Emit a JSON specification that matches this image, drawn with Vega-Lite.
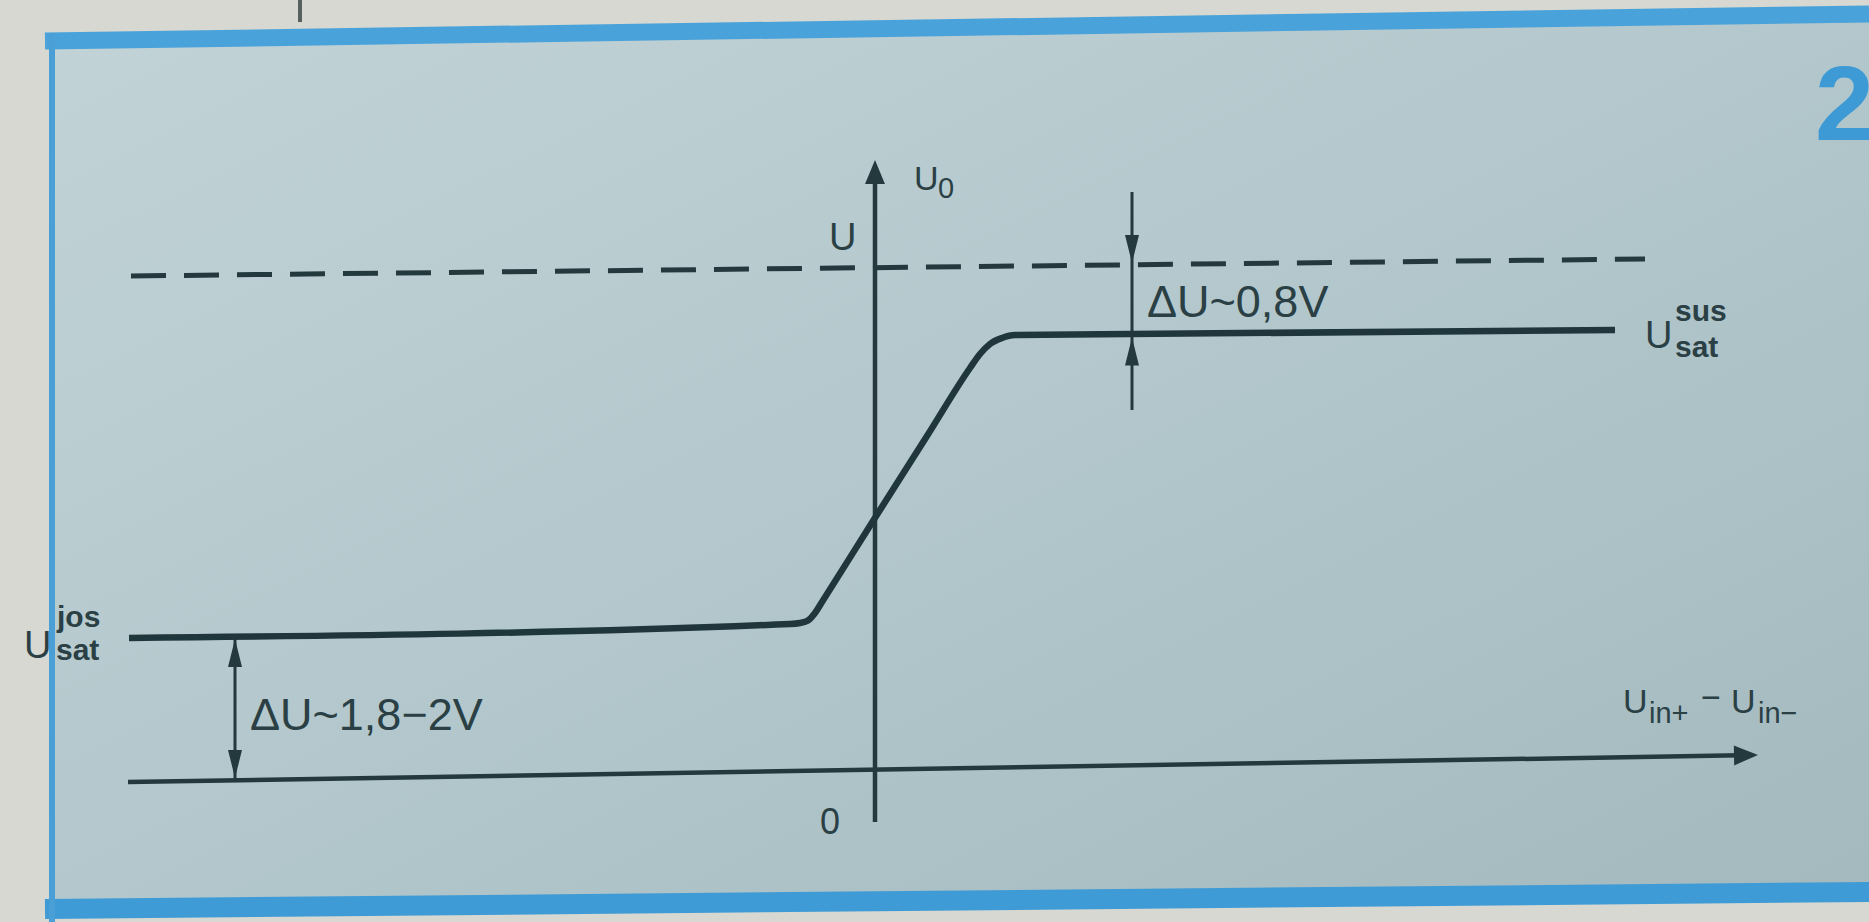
{
  "$schema": "https://vega.github.io/schema/vega-lite/v6.json",
  "width": 1869,
  "height": 922,
  "autosize": {"type": "none"},
  "padding": 0,
  "background": "#d6d8d1",
  "config": {"view": {"stroke": null}},
  "datasets": {
    "panel": [
      {"x": -8.23, "y": 7.32, "y2": -1.36},
      {"x": 9.94, "y": 7.59, "y2": -1.19}
    ],
    "bandTop": [{"x": -8.3, "y": 7.32}, {"x": 9.94, "y": 7.59}],
    "bandBottom": [{"x": -8.3, "y": -1.36}, {"x": 9.94, "y": -1.19}],
    "frameLeft": [{"x": -8.23, "y": 7.4}, {"x": -8.23, "y": -1.49}],
    "tick": [{"x": -5.75, "y": 7.73}, {"x": -5.75, "y": 7.51}],
    "supply": [{"x": -7.44, "y": 4.97}, {"x": 7.7, "y": 5.14}],
    "axes": [
      {"s": "Uin", "x": -7.47, "y": -0.09},
      {"s": "Uin", "x": 8.65, "y": 0.177},
      {"s": "Uo", "x": 0, "y": -0.49},
      {"s": "Uo", "x": 0, "y": 5.95}
    ],
    "dims": [
      {"s": "sus", "x": 2.57, "y": 5.81},
      {"s": "sus", "x": 2.57, "y": 3.63},
      {"s": "jos", "x": -6.4, "y": 1.35},
      {"s": "jos", "x": -6.4, "y": -0.07}
    ],
    "transfer": [
      {"x": -7.46, "y": 1.35},
      {"x": -0.85, "y": 1.49},
      {"x": -0.75, "y": 1.5},
      {"x": -0.67, "y": 1.525},
      {"x": -0.6, "y": 1.6},
      {"x": -0.53, "y": 1.71},
      {"x": -0.02, "y": 2.52},
      {"x": 0.52, "y": 3.37},
      {"x": 0.95, "y": 4.05},
      {"x": 1.05, "y": 4.19},
      {"x": 1.15, "y": 4.29},
      {"x": 1.27, "y": 4.35},
      {"x": 1.4, "y": 4.38},
      {"x": 7.4, "y": 4.43}
    ],
    "headUoAxis": [{"x": 0, "y": 6.13}],
    "headUinAxis": [{"x": 8.83, "y": 0.18}],
    "headsUp": [{"x": 2.57, "y": 4.355}, {"x": -6.4, "y": 1.34}],
    "headsDown": [{"x": 2.57, "y": 5.1}, {"x": -6.4, "y": -0.05}],
    "labelsDelta": [
      {"x": 2.72, "y": 4.56, "t": "ΔU~0,8V"},
      {"x": -6.25, "y": 0.43, "t": "ΔU~1,8−2V"}
    ],
    "labelsU": [
      {"x": -0.46, "y": 5.23, "t": "U"},
      {"x": 7.7, "y": 4.25, "t": "U"},
      {"x": -8.51, "y": 1.15, "t": "U"}
    ],
    "labelZero": [{"x": -0.45, "y": -0.61, "t": "0"}],
    "labelsAxisU": [
      {"x": 0.39, "y": 5.83, "t": "U"},
      {"x": 7.48, "y": 0.6, "t": "U"},
      {"x": 8.26, "y": 0.64, "t": "−"},
      {"x": 8.56, "y": 0.6, "t": "U"}
    ],
    "labelsAxisSub": [
      {"x": 0.63, "y": 5.75, "t": "0"},
      {"x": 7.74, "y": 0.5, "t": "in+"},
      {"x": 8.83, "y": 0.5, "t": "in−"}
    ],
    "labelsSat": [
      {"x": 8.0, "y": 4.52, "t": "sus"},
      {"x": 8.0, "y": 4.16, "t": "sat"},
      {"x": -8.18, "y": 1.46, "t": "jos"},
      {"x": -8.19, "y": 1.13, "t": "sat"}
    ],
    "figNumber": [{"x": 9.4, "y": 6.33, "t": "2"}]
  },
  "encoding": {
    "x": {"field": "x", "type": "quantitative", "scale": {"domain": [-8.75, 9.94], "nice": false, "zero": false}, "axis": null},
    "y": {"field": "y", "type": "quantitative", "scale": {"domain": [-1.49, 7.73], "nice": false, "zero": false}, "axis": null}
  },
  "layer": [
    {
      "data": {"name": "panel"},
      "mark": {
        "type": "area",
        "fill": {"gradient": "linear", "x1": 0, "y1": 0, "x2": 1, "y2": 1,
          "stops": [{"offset": 0, "color": "#c2d3d7"}, {"offset": 0.55, "color": "#b1c6cb"}, {"offset": 1, "color": "#a3b9be"}]}
      },
      "encoding": {"y2": {"field": "y2"}}
    },
    {"data": {"name": "bandTop"}, "mark": {"type": "line", "color": "#4aa2da", "strokeWidth": 17}, "encoding": {}},
    {"data": {"name": "bandBottom"}, "mark": {"type": "line", "color": "#3f9bd6", "strokeWidth": 20}, "encoding": {}},
    {"data": {"name": "frameLeft"}, "mark": {"type": "line", "color": "#4a9fd6", "strokeWidth": 6}, "encoding": {}},
    {"data": {"name": "tick"}, "mark": {"type": "line", "color": "#56605f", "strokeWidth": 4}, "encoding": {}},
    {"data": {"name": "supply"}, "mark": {"type": "line", "color": "#23393e", "strokeWidth": 5, "strokeDash": [35, 18]}, "encoding": {}},
    {"data": {"name": "axes"}, "mark": {"type": "line", "color": "#23393e", "strokeWidth": 4.5}, "encoding": {"detail": {"field": "s"}}},
    {"data": {"name": "dims"}, "mark": {"type": "line", "color": "#23393e", "strokeWidth": 3}, "encoding": {"detail": {"field": "s"}}},
    {"data": {"name": "transfer"}, "mark": {"type": "line", "color": "#1f373c", "strokeWidth": 6.5, "interpolate": "monotone", "strokeJoin": "round"}, "encoding": {}},
    {"data": {"name": "headUoAxis"}, "mark": {"type": "point", "filled": true, "opacity": 1, "color": "#23393e", "shape": "M0,0L0.83,2L-0.83,2Z", "size": 576, "angle": 0}},
    {"data": {"name": "headUinAxis"}, "mark": {"type": "point", "filled": true, "opacity": 1, "color": "#23393e", "shape": "M0,0L0.83,2L-0.83,2Z", "size": 576, "angle": 89}},
    {"data": {"name": "headsUp"}, "mark": {"type": "point", "filled": true, "opacity": 1, "color": "#23393e", "shape": "M0,0L0.5,2L-0.5,2Z", "size": 784, "angle": 0}},
    {"data": {"name": "headsDown"}, "mark": {"type": "point", "filled": true, "opacity": 1, "color": "#23393e", "shape": "M0,0L0.5,2L-0.5,2Z", "size": 784, "angle": 180}},
    {"data": {"name": "labelsDelta"}, "mark": {"type": "text", "font": "Liberation Sans", "fontSize": 45, "align": "left", "baseline": "alphabetic", "color": "#2a4045"}, "encoding": {"text": {"field": "t"}}},
    {"data": {"name": "labelsU"}, "mark": {"type": "text", "font": "Liberation Sans", "fontSize": 38, "align": "left", "baseline": "alphabetic", "color": "#2a4045"}, "encoding": {"text": {"field": "t"}}},
    {"data": {"name": "labelZero"}, "mark": {"type": "text", "font": "Liberation Sans", "fontSize": 36, "align": "center", "baseline": "alphabetic", "color": "#2a4045"}, "encoding": {"text": {"field": "t"}}},
    {"data": {"name": "labelsAxisU"}, "mark": {"type": "text", "font": "Liberation Sans", "fontSize": 34, "align": "left", "baseline": "alphabetic", "color": "#2a4045"}, "encoding": {"text": {"field": "t"}}},
    {"data": {"name": "labelsAxisSub"}, "mark": {"type": "text", "font": "Liberation Sans", "fontSize": 29, "align": "left", "baseline": "alphabetic", "color": "#2a4045"}, "encoding": {"text": {"field": "t"}}},
    {"data": {"name": "labelsSat"}, "mark": {"type": "text", "font": "Liberation Sans", "fontSize": 30, "fontWeight": "bold", "align": "left", "baseline": "alphabetic", "color": "#2a4045"}, "encoding": {"text": {"field": "t"}}},
    {"data": {"name": "figNumber"}, "mark": {"type": "text", "font": "Liberation Sans", "fontSize": 106, "fontWeight": "bold", "align": "left", "baseline": "alphabetic", "color": "#3d9ad5"}, "encoding": {"text": {"field": "t"}}}
  ]
}
